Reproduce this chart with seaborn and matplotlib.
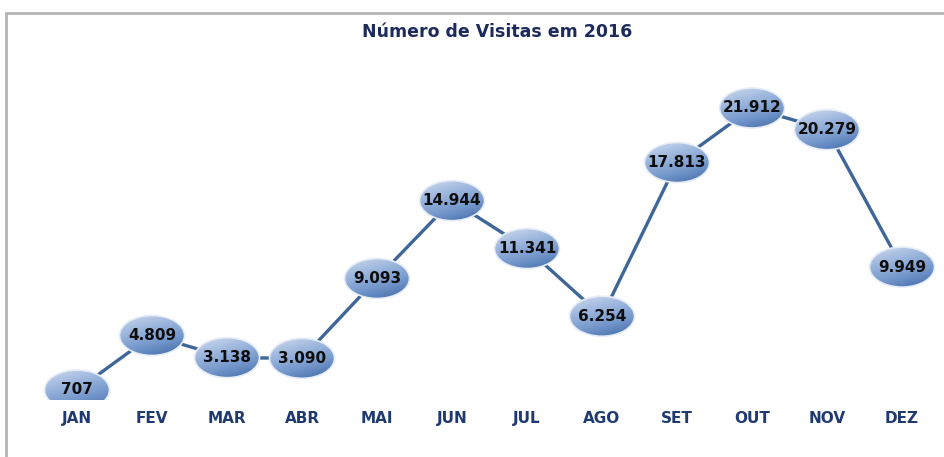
import numpy as np
import pandas as pd
import matplotlib
matplotlib.use('Agg')
import matplotlib.pyplot as plt
from matplotlib.patches import Ellipse
from matplotlib.lines import Line2D
from matplotlib.colors import LinearSegmentedColormap
import seaborn as sns

MONTHS = ['JAN', 'FEV', 'MAR', 'ABR', 'MAI', 'JUN', 'JUL', 'AGO', 'SET', 'OUT', 'NOV', 'DEZ']
VISITS = [707, 4809, 3138, 3090, 9093, 14944, 11341, 6254, 17813, 21912, 20279, 9949]
LABELS = ['707', '4.809', '3.138', '3.090', '9.093', '14.944', '11.341', '6.254',
          '17.813', '21.912', '20.279', '9.949']
TITLE = 'Número de Visitas em 2016'

W, H = 944, 457
DPI = 100

sns.set_theme(style='white')
plt.rcParams['font.family'] = ['DejaVu Sans']

fig = plt.figure(figsize=(W / DPI, H / DPI), dpi=DPI)
fig.patch.set_facecolor('white')

# axes placed in pixels: x 39.5..939.5, y from 60 (top) to 400 (bottom)
ax_left, ax_right, ax_top, ax_bot = 39.5, 939.5, 60, 400
ax = fig.add_axes([ax_left / W, 1 - ax_bot / H, (ax_right - ax_left) / W, (ax_bot - ax_top) / H])
px_per_unit = 282 / (21912 - 707)
y0_px = 390 + 707 * px_per_unit
ax.set_xlim(-0.5, 11.5)
ax.set_ylim((y0_px - ax_bot) / px_per_unit, (y0_px - ax_top) / px_per_unit)

df = pd.DataFrame({'x': np.arange(len(MONTHS)), 'visitas': VISITS})
sns.lineplot(data=df, x='x', y='visitas', ax=ax, color='#3f6698', linewidth=2.4, zorder=1)

# gradient ellipse markers
ew = 65 / 75.0
eh = 40 / px_per_unit
cmap = LinearSegmentedColormap.from_list('bub', ['#d0dcef', '#9fb8de', '#7396cb', '#3f69a6'])
gy, gx = np.mgrid[0:1:60j, 0:1:60j]
grad = np.clip(0.4 * gx + 0.9 * gy, 0, 1.3)
for xi, yi, lab in zip(df['x'], df['visitas'], LABELS):
    ext = [xi - ew / 2, xi + ew / 2, yi - eh / 2, yi + eh / 2]
    im = ax.imshow(grad, extent=ext, cmap=cmap, vmin=0, vmax=1.3, origin='upper',
                   aspect='auto', zorder=2, interpolation='bilinear')
    ell = Ellipse((xi, yi), ew, eh, facecolor='none', edgecolor='#e6edf6', lw=1.2, zorder=3)
    ax.add_patch(ell)
    im.set_clip_path(ell)
    ax.text(xi, yi, lab, ha='center', va='center', fontsize=11, fontweight='bold',
            color='#0d0d0d', zorder=4, family=['DejaVu Sans'])

ax.set_xlim(-0.5, 11.5)
ax.set_ylim((y0_px - ax_bot) / px_per_unit, (y0_px - ax_top) / px_per_unit)
ax.set_xticks(df['x'])
ax.set_xticklabels(MONTHS, fontsize=11, fontweight='bold', color='#1f3a70',
                   family=['DejaVu Sans'])
ax.tick_params(axis='x', length=0, pad=8)
ax.set_yticks([])
ax.set_xlabel('')
ax.set_ylabel('')
for s in ax.spines.values():
    s.set_visible(False)
ax.patch.set_alpha(0)

fig.text(497 / W, 1 - 32 / H, TITLE, ha='center', va='center', fontsize=12.5,
         fontweight='bold', color='#1c2b5c', family=['DejaVu Sans'])

# outer frame (top and left edges)
fig.add_artist(Line2D([6 / W, 1], [1 - 13 / H, 1 - 13 / H], color='#b4b4b4', lw=2,
                      transform=fig.transFigure))
fig.add_artist(Line2D([6 / W, 6 / W], [1 - 13 / H, 0], color='#b4b4b4', lw=2,
                      transform=fig.transFigure))

fig.savefig('out.png', dpi=DPI)
